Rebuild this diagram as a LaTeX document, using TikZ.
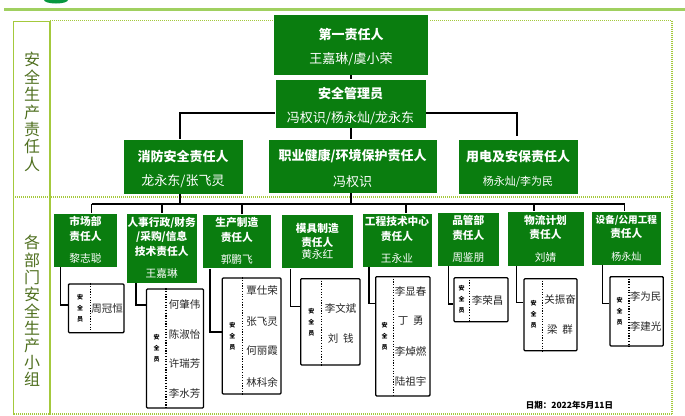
\documentclass[tikz,border=0pt]{standalone}
\usepackage{fontspec}
\setmainfont{Noto Sans CJK SC}
\definecolor{boxgreen}{HTML}{0A7D0F}
\definecolor{framegreen}{HTML}{A4C93C}
\definecolor{barcolor}{HTML}{A0D060}
\definecolor{sidetext}{HTML}{4F6F1F}
\tikzset{
  respbox/.style={shape=rectangle,fill=boxgreen,draw=white,line width=0.4pt,text=white,
    align=center,inner sep=0pt},
  memberbox/.style={shape=rectangle,draw=black,line width=1.3pt,rounded corners=1pt,fill=white,inner sep=0pt},
  linkline/.style={-,draw=black,line width=1.3pt},
  dashline/.style={draw=black,line width=1.3pt,dash pattern=on 1.2pt off 1.5pt},
  frameline/.style={draw=framegreen,line width=1.3pt,dash pattern=on 1pt off 1pt},
  membertext/.style={inner sep=0pt,font=\fontsize{10.5}{10.5}\selectfont,text=black!85},
  guardtext/.style={inner sep=0pt,align=center,font=\fontsize{6}{11}\selectfont\bfseries},
  sidetitle/.style={inner sep=0pt,align=center,text=sidetext,font=\fontsize{16}{17.4}\selectfont}
}
\begin{document}
\begin{tikzpicture}[x=1pt,y=-1pt]
\useasboundingbox (0,0) rectangle (685,415);
%% top bar and logo
\fill[boxgreen!80!cyan] (68,0) arc[start angle=0,end angle=180,x radius=12,y radius=3.5] -- cycle;
\draw[barcolor,line width=2.5pt] (4,9.5) -- (685,9.5);
%% frames
\draw[frameline] (50,20.5) -- (672,20.5) -- (672,414) -- (13,414);
\draw[frameline] (13,197) -- (672,197);
\draw[framegreen,line width=1.5pt] (13.5,414.5) -- (13.5,21.5) -- (50,21.5) -- (50,414.5);
\node (sideone) at (32,112) [sidetitle] {安\\全\\生\\产\\责\\任\\人};
\node (sidetwo) at (32,311) [sidetitle,font=\fontsize{16}{17.1}\selectfont] {各\\部\\门\\安\\全\\生\\产\\小\\组};
%% upper boxes
\foreach \nodename/\x/\y/\w/\h/\head/\who in {
  first/351/44.5/155/61/第一责任人/王嘉琳{/}虞小荣,
  manager/350.5/103.5/151/49/安全管理员/冯权识{/}杨永灿{/}龙永东,
  fire/183/166.5/120/55/消防安全责任人/龙永东{/}张飞灵,
  health/352.5/166/169/54/职业健康{/}环境保护责任人/冯权识,
  power/518/166.5/120/55/用电及安保责任人/{\fontsize{11}{11}\selectfont 杨永灿{/}李为民}} {
  \node (\nodename) at (\x,\y) [respbox,minimum width=\w pt,minimum height=\h pt,
    font=\fontsize{13}{13}\selectfont\bfseries] {\rule{0pt}{16pt}\head\\[11pt]\mdseries\who};
}
%% department boxes
\foreach \nodename/\x/\y/\w/\h/\head/\who/\gap in {
  market/85.5/240/64/54/市场部\\责任人/黎志聪/8,
  admin/161.7/248/70.5/70/人事行政{/}财务\\{/}采购{/}信息\\技术责任人/王嘉琳/8,
  make/236.8/241.2/68.5/54.5/生产制造\\责任人/郭鹏飞/8,
  mold/317.3/241.2/71.5/54.5/模具制造\\责任人/黄永红/-3,
  tech/397/240/69.5/54/工程技术中心\\责任人/王永业/8,
  quality/468.3/239/61.3/54/品管部\\责任人/周鉴朋/8,
  logistic/545.5/238.5/77/55/物流计划\\责任人/刘婧/8,
  plant/626.3/238/70.7/54/{\fontsize{9.6}{14.5}\selectfont 设备{/}公用工程}\\责任人/{\fontsize{10}{10}\selectfont 杨永灿}/8} {
  \node (\nodename) at (\x,\y) [respbox,minimum width=\w pt,minimum height=\h pt,
    font=\fontsize{10.7}{14.5}\selectfont\bfseries] {\head\\[\gap pt]\mdseries\who};
}
%% member boxes
\foreach \nodename/\x/\y/\w/\h/\d/\gx in {
  mone/96.2/308.3/55.5/48.7/90.5/80,
  mtwo/175/348.5/57/119/166/156.7,
  mthree/251.6/336/58.7/116/242.7/232.3,
  mfour/330.3/321.8/59.3/86.3/321.3/311.3,
  mfive/402.8/336.3/54.3/119.3/393.7/384.7,
  msix/481/299.7/54/44/469.3/461.7,
  mseven/550.5/314.7/53/72/542.3/533.7,
  meight/636.6/311.3/53.3/69.3/629/619.7} {
  \node (\nodename) at (\x,\y) [memberbox,minimum width=\w pt,minimum height=\h pt] {};
  \draw[dashline] (\nodename.north -| \d,0) -- (\nodename.south -| \d,0);
  \node (g\nodename) at (\gx,\y) [guardtext] {安\\全\\员};
}
%% member names
\foreach \nodename/\x/\y/\who in {
  na/107/309/周冠恒,
  nb/184.7/304/何肇伟, nc/184.7/334/陈淑怡, nd/184.7/364/许瑞芳, ne/184.7/394/李水芳,
  nf/262/291/覃仕荣, ng/262/322/张飞灵, nh/262/351/何丽霞, ni/262/382/林科余,
  nj/340.7/308/李文斌, nk/340.7/338/刘\ \ 钱,
  nl/410.7/291.7/李显春, nm/410.7/321/丁\ \ 勇, nn/410.7/351/李焯燃, no/410.7/381.7/陆祖宇,
  np/487.7/300.7/李荣昌,
  nq/560/300/关振奋, nr/560/330/梁\ \ 群,
  ns/645.7/296.7/李为民, nt/645.7/326.7/李建光} {
  \node (\nodename) at (\x,\y) [membertext] {\who};
}
%% date
\node (datelabel) at (569.5,405) [inner sep=0pt,font=\fontsize{8.5}{9}\selectfont\bfseries] {日期：2022年5月11日};
%% connector ends
\coordinate (busleft) at (91.5,204);
\coordinate (busright) at (624.5,204);
\coordinate (powertop) at (517,136);
%% lines between boxes
\draw[linkline] (first.south -| 351,0) -- (manager.north -| 351,0);
\draw[linkline] (manager.south -| 351,0) -- (health.north -| 351,0);
\draw[linkline] (manager.west |- 0,113) -| (fire.north -| 180,0);
\draw[linkline] (manager.east |- 0,113) -| (powertop);
\draw[linkline] (busleft) -- (busright);
\draw[linkline] (health.south -| 351,0) -- (351,204);
\draw[linkline] (fire.south -| 180,0) -- (180,204);
\foreach \startnode/\x in {market/91.5, admin/162, make/242, tech/406, logistic/534, plant/624.5} {
  \draw[linkline] (\x,204) -- (\startnode.north -| \x,0);
}
\foreach \startnode/\endnode/\x/\y in {market/mone/60.7/305, admin/mtwo/136/305, make/mthree/210/332,
  mold/mfour/290.7/306.7, tech/mfive/369/303.7, quality/msix/448.3/304,
  logistic/mseven/516.7/302.7, plant/meight/602.7/303.3} {
  \draw[linkline] (\startnode.south -| \x,0) -- (\x,\y) -- (\endnode.west |- 0,\y);
}
\end{tikzpicture}
\end{document}
